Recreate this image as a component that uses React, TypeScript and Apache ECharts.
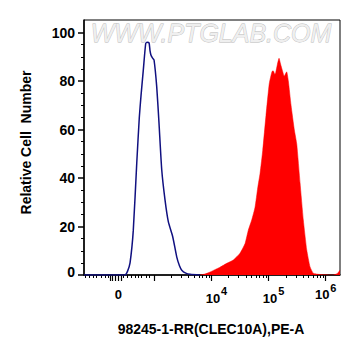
import React, { useEffect, useRef } from "react";
import * as echarts from "echarts";

// x values are in display decades (3 = 10^3, 4 = 10^4 ...), y = relative cell number
const X_MIN = 1.769;
const X_MAX = 6.25;
const ZERO_POS = 2.37;
const Y_MAX = 105.2;

const blueSeries: [number, number][] = [
  [1.769, 0], [2.45, 0], [2.487, 0], [2.53, 1.5], [2.575, 5], [2.632, 18.5], [2.692, 46],
  [2.737, 65], [2.767, 74], [2.807, 84.5], [2.849, 95.5], [2.872, 96], [2.907, 95.8],
  [2.925, 92.5], [2.942, 90.7], [2.97, 89.5], [2.995, 88.7], [3.042, 77.6], [3.082, 62.6],
  [3.13, 43.3], [3.187, 31], [3.245, 22], [3.322, 15.8], [3.392, 7.5], [3.44, 3.8],
  [3.48, 2], [3.55, 0.8], [3.625, 0.3], [3.8, 0],
];

const redSeries: [number, number][] = [
  [3.8, 0], [3.887, 0.4], [3.975, 1.2], [4.06, 2.2], [4.15, 3.2], [4.267, 4.8], [4.383, 6.2],
  [4.5, 9], [4.588, 13], [4.645, 18.5], [4.705, 22.7], [4.763, 28], [4.81, 36], [4.851, 42],
  [4.898, 51.5], [4.955, 66], [5.012, 79], [5.06, 84], [5.083, 84.2], [5.11, 82.8],
  [5.125, 83.5], [5.155, 87], [5.183, 89.4], [5.21, 87], [5.24, 84.5], [5.275, 82],
  [5.3, 83.2], [5.317, 83.8], [5.346, 80], [5.393, 70], [5.451, 59.8], [5.493, 54],
  [5.551, 38], [5.608, 22.7], [5.668, 10.3], [5.725, 3.4], [5.783, 0.7], [5.9, 0.2],
  [6.128, 0], [6.198, 0.5], [6.25, 2],
];

const yMajorTicks = [0, 20, 40, 60, 80, 100];
const yMinorTicks = [5, 10, 15, 25, 30, 35, 45, 50, 55, 65, 70, 75, 85, 90, 95];

const xLabelValues = [ZERO_POS, 4, 5, 6];
const xMajorTicks = [2.224, 2.259, 2.312, ZERO_POS, 2.422, 3, 4, 5, 6];
const xLinearMinor = [
  1.787, 1.857, 1.932, 1.992, 2.067, 2.137, 2.195, 2.457, 2.527, 2.592, 2.662, 2.72,
  2.779, 2.855, 2.907,
];
const logMultipliers = [2, 3, 4, 5, 6, 7, 8, 9];
const logDecades = [3, 4, 5];
const xMinorTicks = [
  ...xLinearMinor,
  ...logDecades.flatMap((d) => logMultipliers.map((k) => d + Math.log10(k))),
];

const xTitle = "98245-1-RR(CLEC10A),PE-A";
const yTitle = "Relative Cell  Number";
const watermark = "WWW.PTGLAB.COM";

const FONT = "Arial, 'Liberation Sans', sans-serif";

export default function App() {
  const ref = useRef<HTMLDivElement>(null);

  useEffect(() => {
    if (!ref.current) return;
    const chart = echarts.init(ref.current, undefined, { renderer: "svg" });
    const axisBase = {
      type: "value" as const,
      min: X_MIN,
      max: X_MAX,
      splitLine: { show: false },
    };
    const labelText = {
      fontWeight: "bold" as const,
      fontFamily: FONT,
      color: "#000",
    };
    chart.setOption({
      animation: false,
      backgroundColor: "#ffffff",
      grid: {
        left: 84,
        top: 20,
        right: 21,
        bottom: 81,
        show: true,
        borderColor: "#000",
        borderWidth: 1,
        backgroundColor: "transparent",
      },
      xAxis: [
        {
          ...axisBase,
          position: "bottom",
          axisLine: { show: true, onZero: false, lineStyle: { color: "#000", width: 1.5 } },
          axisTick: {
            show: true,
            customValues: xMajorTicks,
            length: 6,
            lineStyle: { color: "#000", width: 1.2 },
          },
          axisLabel: {
            show: true,
            customValues: xLabelValues,
            margin: 9,
            formatter: (v: number) => {
              if (Math.abs(v - ZERO_POS) < 1e-6) return "{b|0}";
              const e = Math.round(v);
              return (e < 6 ? "{p|}" : "") + "{b|10}{s|" + e + "}";
            },
            rich: {
              p: { width: 10, height: 21 },
              b: { ...labelText, fontSize: 13, lineHeight: 14, padding: [7, 0, 0, 0] },
              s: { ...labelText, fontSize: 11, lineHeight: 14, padding: [0, 0, 7, 1] },
            },
          },
        },
        {
          ...axisBase,
          position: "bottom",
          axisLine: { show: false, onZero: false },
          axisTick: {
            show: true,
            customValues: xMinorTicks,
            length: 3,
            lineStyle: { color: "#000", width: 1 },
          },
          axisLabel: { show: false },
        },
      ],
      yAxis: [
        {
          type: "value",
          min: 0,
          max: Y_MAX,
          position: "left",
          splitLine: { show: false },
          axisLine: { show: true, onZero: false, lineStyle: { color: "#000", width: 1.5 } },
          axisTick: {
            show: true,
            customValues: yMajorTicks,
            length: 6,
            lineStyle: { color: "#000", width: 1.5 },
          },
          axisLabel: {
            show: true,
            customValues: yMajorTicks,
            margin: 9,
            formatter: (v: number) => (v === 0 ? "{z|0}" : "{n|" + v + "}"),
            rich: {
              n: { ...labelText, fontSize: 14 },
              z: { ...labelText, fontSize: 14, padding: [0, 0, 6, 0] },
            },
          },
        },
        {
          type: "value",
          min: 0,
          max: Y_MAX,
          position: "left",
          splitLine: { show: false },
          axisLine: { show: false, onZero: false },
          axisTick: {
            show: true,
            customValues: yMinorTicks,
            length: 3,
            lineStyle: { color: "#000", width: 1 },
          },
          axisLabel: { show: false },
        },
      ],
      graphic: [
        {
          type: "text",
          x: 211,
          y: 32.5,
          z: 0,
          silent: true,
          style: {
            text: watermark,
            fontSize: 25,
            fontStyle: "italic",
            fontFamily: FONT,
            fill: "#efefef",
            stroke: "#b8b8b8",
            lineWidth: 0.8,
            align: "center",
            verticalAlign: "middle",
          },
        },
        {
          type: "text",
          x: 211,
          y: 329,
          style: {
            text: xTitle,
            fontSize: 14,
            fontWeight: "bold",
            fontFamily: FONT,
            fill: "#000",
            align: "center",
            verticalAlign: "middle",
          },
        },
        {
          type: "text",
          x: 26,
          y: 142.5,
          rotation: Math.PI / 2,
          style: {
            text: yTitle,
            fontSize: 14,
            fontWeight: "bold",
            fontFamily: FONT,
            fill: "#000",
            align: "center",
            verticalAlign: "middle",
          },
        },
      ],
      series: [
        {
          type: "line",
          data: redSeries,
          xAxisIndex: 0,
          yAxisIndex: 0,
          showSymbol: false,
          symbol: "none",
          smooth: 0.15,
          lineStyle: { color: "#ff0000", width: 0.5 },
          areaStyle: { color: "#ff0000", opacity: 1 },
          z: 2,
        },
        {
          type: "line",
          data: blueSeries,
          xAxisIndex: 0,
          yAxisIndex: 0,
          showSymbol: false,
          symbol: "none",
          smooth: 0.2,
          lineStyle: { color: "#101080", width: 1.5 },
          z: 3,
        },
      ],
    });
    return () => chart.dispose();
  }, []);

  return <div ref={ref} style={{ width: 361, height: 356, position: "absolute", left: 0, top: 0 }} />;
}
